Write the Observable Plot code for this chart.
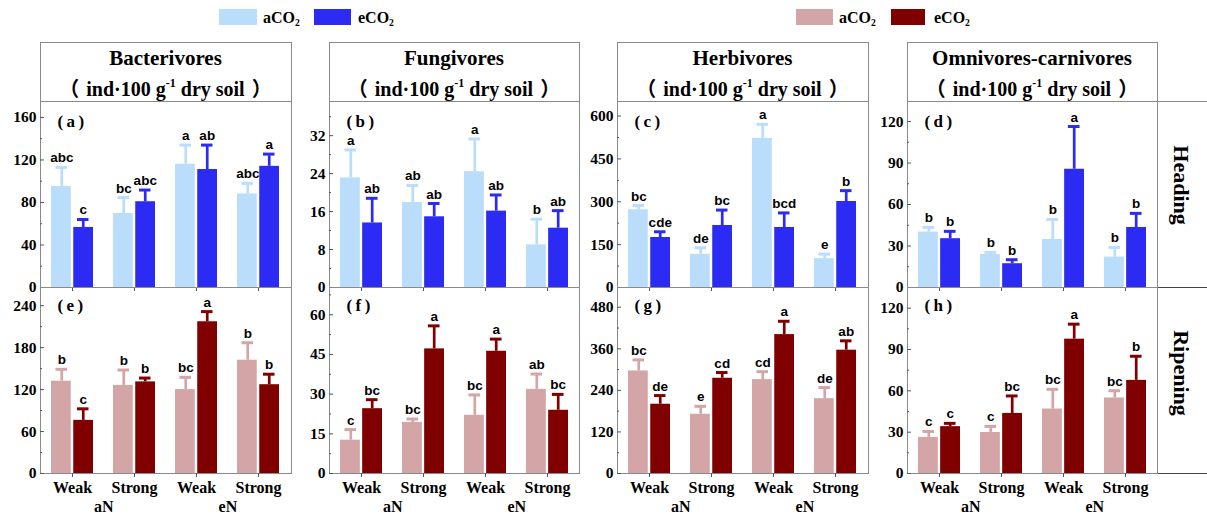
<!DOCTYPE html>
<html><head><meta charset="utf-8">
<script src="https://cdn.jsdelivr.net/npm/d3@7"></script>
<script src="https://cdn.jsdelivr.net/npm/@observablehq/plot@0.6"></script>
<style>
body{margin:0;background:#fff;}
#chart{position:relative;width:1207px;height:517px;overflow:hidden;font-family:"Liberation Serif","Times New Roman",serif;font-weight:bold;color:#000;}
.box{position:absolute;border:1px solid #8a8a8a;box-sizing:border-box;}
.hl{position:absolute;height:0;border-top:1px solid #8a8a8a;}
.ttl{position:absolute;text-align:center;white-space:nowrap;font-size:20px;line-height:20px;}
.ttl sup{font-size:0.6em;position:relative;top:-0.1em;line-height:0;vertical-align:super;}
.cjk{font-family:"Noto Sans CJK SC";font-weight:bold;}
.pl{margin-right:7px;}
.pr{margin-left:7px;}
.sw{position:absolute;height:16px;}
.lt{position:absolute;font-size:16px;line-height:16px;white-space:nowrap;}
.lt sub{font-size:0.6em;line-height:0;position:relative;top:0.3em;vertical-align:baseline;}
.rot{position:absolute;writing-mode:vertical-rl;font-size:22px;line-height:22px;transform:translate(-50%,-50%);white-space:nowrap;}
</style></head>
<body><div id="chart"></div>
<script>
// ---------------- data ----------------
const groups = ["Weak|aN", "Strong|aN", "Weak|eN", "Strong|eN"];
const nitrogen = ["aN", "eN"];
const co2 = ["aCO2", "eCO2"];
const titles = ["Bacterivores", "Fungivores", "Herbivores", "Omnivores-carnivores"];
const stages = ["Heading", "Ripening"];

// (a) Bacterivores, Heading
const a_aMean = [95, 69.6, 116, 88],   a_aErr = [18, 15, 18, 10],   a_aLet = ["abc", "bc", "a", "abc"];
const a_eMean = [56.5, 80.7, 111, 114], a_eErr = [7.5, 11, 23, 11.5], a_eLet = ["c", "abc", "ab", "a"];
// (b) Fungivores, Heading
const b_aMean = [23.1, 17.9, 24.4, 9.0], b_aErr = [5.9, 3.6, 6.9, 5.4], b_aLet = ["a", "ab", "a", "b"];
const b_eMean = [13.6, 14.9, 16.1, 12.5], b_eErr = [5.2, 2.8, 3.4, 3.7], b_eLet = ["ab", "ab", "ab", "ab"];
// (c) Herbivores, Heading
const c_aMean = [272, 116, 522, 101], c_aErr = [15, 23, 49, 16], c_aLet = ["bc", "de", "a", "e"];
const c_eMean = [175, 217, 210, 301], c_eErr = [20, 54, 51, 38], c_eLet = ["cde", "bc", "bcd", "b"];
// (d) Omnivores-carnivores, Heading
const d_aMean = [40.1, 23.9, 34.8, 22.0], d_aErr = [3.4, 1.5, 14.4, 7.0], d_aLet = ["b", "b", "b", "b"];
const d_eMean = [35.3, 17.2, 85.5, 43.4], d_eErr = [5.3, 2.9, 30.9, 10.2], d_eLet = ["b", "b", "a", "b"];
// (e) Bacterivores, Ripening
const e_aMean = [132, 126, 120, 162], e_aErr = [17, 22, 17.5, 25], e_aLet = ["b", "b", "bc", "b"];
const e_eMean = [76, 131, 217, 127], e_eErr = [16.5, 5.5, 14.5, 15], e_eLet = ["c", "b", "a", "b"];
// (f) Fungivores, Ripening
const f_aMean = [12.6, 19.3, 22.0, 31.8], f_aErr = [4.0, 1.3, 7.7, 5.8], f_aLet = ["c", "bc", "bc", "ab"];
const f_eMean = [24.5, 47.1, 46.2, 23.9], f_eErr = [3.4, 8.7, 4.6, 6.0], f_eLet = ["bc", "a", "a", "bc"];
// (g) Herbivores, Ripening
const g_aMean = [296, 171, 271, 216], g_aErr = [32, 23, 23, 32], g_aLet = ["bc", "e", "cd", "de"];
const g_eMean = [200, 275, 401, 356], g_eErr = [25, 16.5, 38.5, 27], g_eLet = ["de", "cd", "a", "ab"];
// (h) Omnivores-carnivores, Ripening
const h_aMean = [26.2, 29.8, 46.8, 54.8], h_aErr = [4.3, 4.4, 14.3, 5.3], h_aLet = ["c", "c", "bc", "bc"];
const h_eMean = [34.0, 43.6, 97.5, 67.6], h_eErr = [2.4, 12.7, 10.9, 17.5], h_eLet = ["c", "bc", "a", "b"];

// y tick labels
const ticks_a = [0, 40, 80, 120, 160], ticks_b = [0, 8, 16, 24, 32], ticks_c = [0, 150, 300, 450, 600], ticks_d = [0, 30, 60, 90, 120];
const ticks_e = [0, 60, 120, 180, 240], ticks_f = [0, 15, 30, 45, 60], ticks_g = [0, 120, 240, 360, 480], ticks_h = [0, 30, 60, 90, 120];

const blues = ["#b9ddfb", "#2b2bf3"];
const reds = ["#d4a5a7", "#800000"];

// ---------------- layout ----------------
const colX = [40, 329, 617, 907];
const colW = [251, 250, 251, 250];
const rowY = [101, 287];
const PH = 186;
const ML = 40, MR = 10, MT = 15;
const PI = 0.315;
const serif = '"Liberation Serif","Times New Roman",serif';
const sans = '"Liberation Sans",Arial,sans-serif';

const panels = [
  {id: "a", col: 0, row: 0, max: 175, ticks: ticks_a, am: a_aMean, ae: a_aErr, al: a_aLet, em: a_eMean, ee: a_eErr, el: a_eLet},
  {id: "b", col: 1, row: 0, max: 39.2, ticks: ticks_b, am: b_aMean, ae: b_aErr, al: b_aLet, em: b_eMean, ee: b_eErr, el: b_eLet},
  {id: "c", col: 2, row: 0, max: 651, ticks: ticks_c, am: c_aMean, ae: c_aErr, al: c_aLet, em: c_eMean, ee: c_eErr, el: c_eLet},
  {id: "d", col: 3, row: 0, max: 134.5, ticks: ticks_d, am: d_aMean, ae: d_aErr, al: d_aLet, em: d_eMean, ee: d_eErr, el: d_eLet},
  {id: "e", col: 0, row: 1, max: 266, ticks: ticks_e, am: e_aMean, ae: e_aErr, al: e_aLet, em: e_eMean, ee: e_eErr, el: e_eLet},
  {id: "f", col: 1, row: 1, max: 70.3, ticks: ticks_f, am: f_aMean, ae: f_aErr, al: f_aLet, em: f_eMean, ee: f_eErr, el: f_eLet},
  {id: "g", col: 2, row: 1, max: 537, ticks: ticks_g, am: g_aMean, ae: g_aErr, al: g_aLet, em: g_eMean, ee: g_eErr, el: g_eLet},
  {id: "h", col: 3, row: 1, max: 135, ticks: ticks_h, am: h_aMean, ae: h_aErr, al: h_aLet, em: h_eMean, ee: h_eErr, el: h_eLet}
];

const chart = document.getElementById("chart");
function add(html) { chart.insertAdjacentHTML("beforeend", html); }

// legends
add(`<div class="sw" style="left:219px;top:9px;width:38px;background:${blues[0]}"></div>`);
add(`<div class="lt" style="left:263px;top:10px">aCO<sub>2</sub></div>`);
add(`<div class="sw" style="left:314px;top:9px;width:37px;background:${blues[1]}"></div>`);
add(`<div class="lt" style="left:358px;top:10px">eCO<sub>2</sub></div>`);
add(`<div class="sw" style="left:796px;top:9px;width:37px;background:${reds[0]}"></div>`);
add(`<div class="lt" style="left:839px;top:10px">aCO<sub>2</sub></div>`);
add(`<div class="sw" style="left:891px;top:9px;width:34px;background:${reds[1]}"></div>`);
add(`<div class="lt" style="left:934px;top:10px">eCO<sub>2</sub></div>`);

// header boxes
titles.forEach((t, i) => {
  add(`<div class="box" style="left:${colX[i]}px;top:42px;width:${colW[i] + 1}px;height:60px"></div>`);
  add(`<div class="ttl" style="left:${colX[i]}px;width:${colW[i]}px;top:48px;font-size:21px">${t}</div>`);
  add(`<div class="ttl" style="left:${colX[i]}px;width:${colW[i]}px;top:78px"><span class="cjk pl">（</span>ind·100 g<sup>-1</sup> dry soil<span class="cjk pr">）</span></div>`);
});
// right strip
add(`<div class="hl" style="left:1157px;top:101px;width:50px"></div>`);
add(`<div class="hl" style="left:1157px;top:287px;width:50px;border-color:#444"></div>`);
add(`<div class="hl" style="left:1157px;top:473px;width:50px;border-color:#444"></div>`);
add(`<div class="rot" style="left:1181px;top:185px">${stages[0]}</div>`);
add(`<div class="rot" style="left:1181px;top:373px">${stages[1]}</div>`);

function makePanel(p) {
  const W = colW[p.col];
  const bottom = p.row === 1;
  const MB = bottom ? 46 : 12;
  const bw = W / 4 * (1 - PI);
  const col = bottom ? reds : blues;
  const light = groups.map((g, i) => ({group: g, co2: co2[0], mean: p.am[i], top: p.am[i] + p.ae[i], letter: p.al[i]}));
  const dark = groups.map((g, i) => ({group: g, co2: co2[1], mean: p.em[i], top: p.em[i] + p.ee[i], letter: p.el[i]}));
  const capW = 12.5;
  const capIn = (bw - capW) / 2;
  const step = p.ticks[1] - p.ticks[0];
  const minor = p.ticks.map(t => t + step / 2).filter(t => t < p.max);
  const letterStyle = {fontFamily: sans, fontSize: 13.5, fontWeight: "bold", lineAnchor: "bottom", dy: -5, fill: "#000"};
  const svg = Plot.plot({
    width: W + ML + MR, height: PH + MT + MB,
    marginLeft: ML, marginRight: MR, marginTop: MT, marginBottom: MB,
    style: {background: "transparent", overflow: "visible", fontFamily: serif, fontWeight: "bold", fontSize: "15.5px", color: "#000"},
    x: {type: "band", domain: groups, paddingInner: PI, paddingOuter: PI / 2, label: null},
    y: {domain: [0, p.max], label: null},
    marks: [
      Plot.barY(light, {x: "group", y: "mean", fill: col[0], insetRight: bw / 2 + 0.75}),
      Plot.barY(dark, {x: "group", y: "mean", fill: col[1], insetLeft: bw / 2 + 0.75}),
      Plot.ruleX(light, {x: "group", y1: "mean", y2: "top", dx: -bw / 4, stroke: col[0], strokeWidth: 2.7}),
      Plot.ruleX(dark, {x: "group", y1: "mean", y2: "top", dx: bw / 4, stroke: col[1], strokeWidth: 2.7}),
      Plot.tickY(light, {x: "group", y: "top", dx: -bw / 4, insetLeft: capIn, insetRight: capIn, stroke: col[0], strokeWidth: 3}),
      Plot.tickY(dark, {x: "group", y: "top", dx: bw / 4, insetLeft: capIn, insetRight: capIn, stroke: col[1], strokeWidth: 3}),
      Plot.text(light, {x: "group", y: "top", text: "letter", dx: -bw / 4, ...letterStyle}),
      Plot.text(dark, {x: "group", y: "top", text: "letter", dx: bw / 4, ...letterStyle}),
      Plot.frame({stroke: "#8a8a8a"}),
      Plot.axisY({ticks: p.ticks, tickSize: -4, tickPadding: 8, tickFormat: d => String(d), stroke: "#555"}),
      Plot.axisY({ticks: minor, tickSize: -2, tickFormat: () => "", stroke: "#555"}),
      Plot.axisX({tickSize: 4, tickPadding: 4, fontSize: 16, stroke: "#555", tickFormat: bottom ? (d => d.split("|")[0]) : (() => "")}),
      bottom ? Plot.text(nitrogen, {x: d => "Weak|" + d, text: d => d, frameAnchor: "bottom", dx: W / 8, dy: 38, fontSize: 16, fill: "#000"}) : null,
      Plot.text([`(\u2009${p.id}\u2009)`], {text: d => d, frameAnchor: "top-left", dx: 17, dy: bottom ? 18 : 20, lineAnchor: "middle", textAnchor: "start", fontSize: 17, fill: "#000"})
    ]
  });
  svg.style.left = (colX[p.col] - ML) + "px";
  svg.style.top = (rowY[p.row] - MT) + "px";
  svg.style.position = "absolute";
  chart.appendChild(svg);
}
panels.forEach(makePanel);
</script>
</body></html>
